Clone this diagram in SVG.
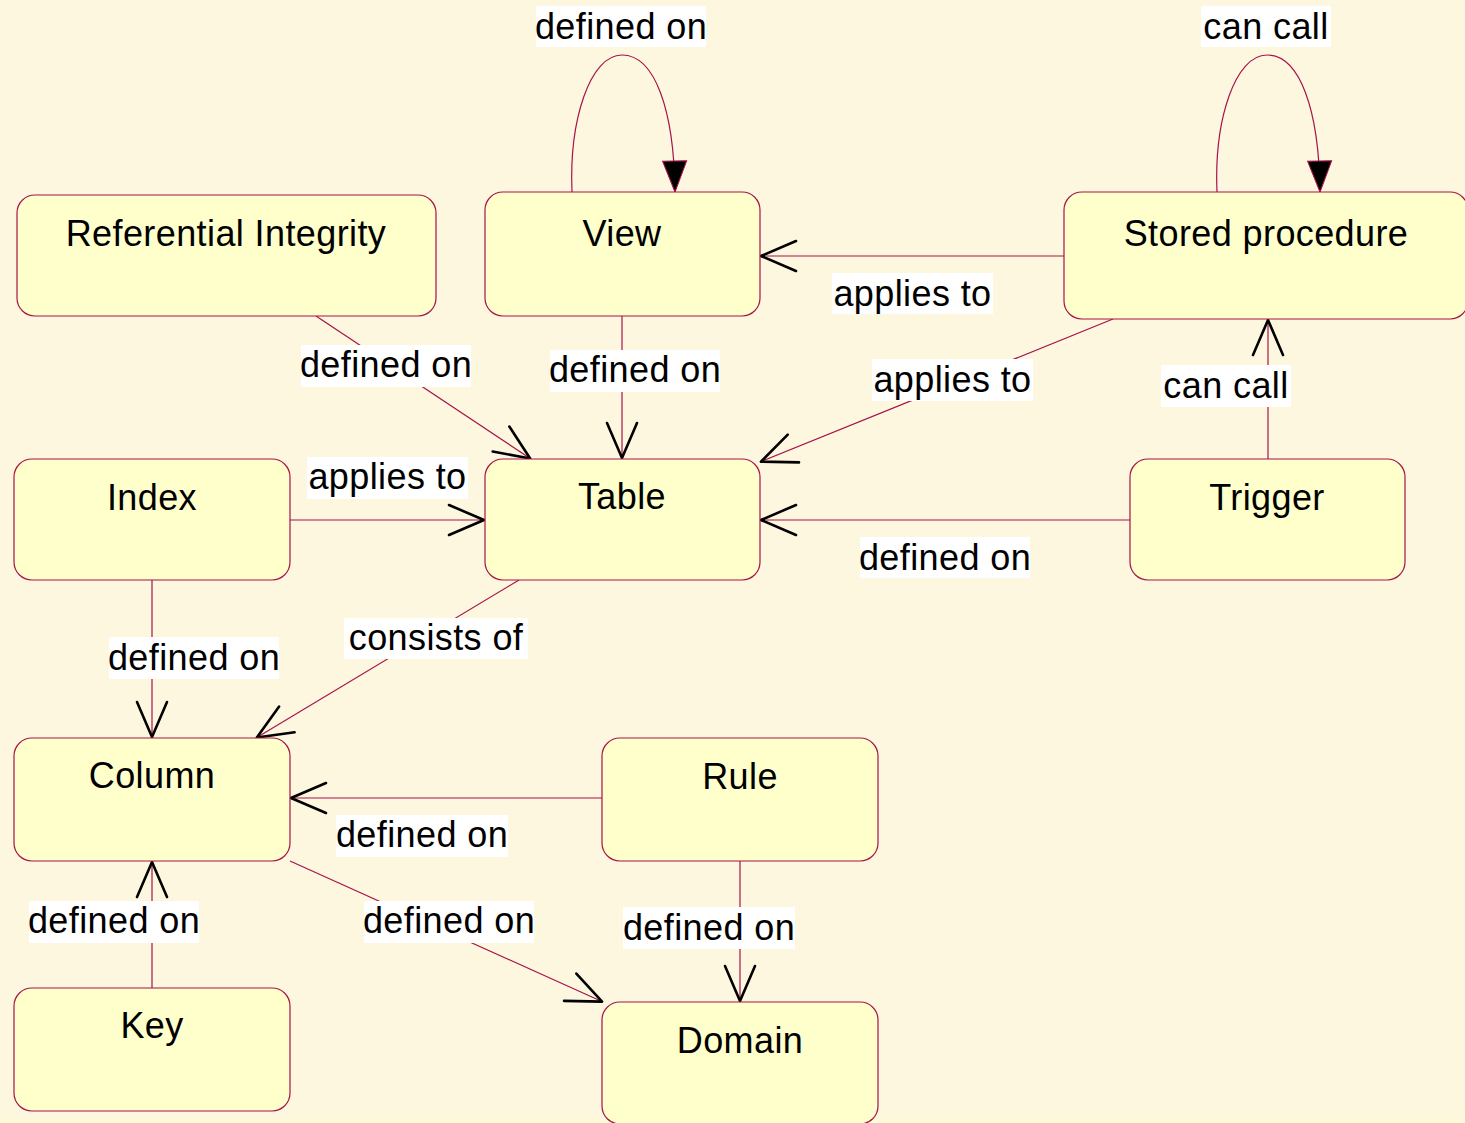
<svg xmlns="http://www.w3.org/2000/svg" width="1465" height="1123" viewBox="0 0 1465 1123">
  <style>
    .node rect { fill: #ffffcc; stroke: #a8124a; stroke-width: 1.2; }
    .node text { font-family: "Liberation Sans", Arial, sans-serif; font-size: 36px; letter-spacing: 0.4px; fill: #000; text-anchor: middle; }
    .edge { fill: none; stroke: #a8124a; stroke-width: 1.2; }
    .open { marker-end: url(#open); }
    .solid { marker-end: url(#solid); }
    .label rect { fill: #ffffff; }
    .label text { font-family: "Liberation Sans", Arial, sans-serif; font-size: 36px; letter-spacing: 0.4px; fill: #000; text-anchor: middle; }
  </style>
  <defs>
    <marker id="open" viewBox="-42 -20 46 40" refX="0" refY="0" markerWidth="46" markerHeight="40" markerUnits="userSpaceOnUse" orient="auto">
      <path d="M-36,-15 L-1,0 L-36,15" fill="none" stroke="#000" stroke-width="2.6" stroke-linejoin="round" stroke-linecap="round"/>
    </marker>
    <marker id="solid" viewBox="-34 -14 36 28" refX="0" refY="0" markerWidth="36" markerHeight="28" markerUnits="userSpaceOnUse" orient="auto">
      <path d="M-31,-12 L0,0 L-31,12 Z" fill="#000" stroke="#a8124a" stroke-width="1"/>
    </marker>
  </defs>

  <!-- canvas -->
  <rect x="0" y="0" width="1465" height="1123" fill="#fdf7df"/>
  <rect x="0" y="1119" width="1465" height="4" fill="#fffbd2"/>

  <!-- connectors -->
  <g id="connectors">
    <path class="edge solid" d="M572,192 C569,120 590,55 622,55 C655,55 674,110 675,192"/>
    <path class="edge solid" d="M1217,192 C1214,120 1235,55 1267,55 C1300,55 1319,110 1320,192"/>
    <path class="edge open" d="M1064,256 L760,256"/>
    <path class="edge open" d="M1113,319 L760,462"/>
    <path class="edge open" d="M1268,459 L1268,319"/>
    <path class="edge open" d="M1130,520 L760,520"/>
    <path class="edge open" d="M316,316 L531,459"/>
    <path class="edge open" d="M622,316 L622,459"/>
    <path class="edge open" d="M290,520 L485,520"/>
    <path class="edge open" d="M519,580 L256,738"/>
    <path class="edge open" d="M152,580 L152,738"/>
    <path class="edge open" d="M602,798 L290,798"/>
    <path class="edge open" d="M152,988 L152,861"/>
    <path class="edge open" d="M290,861 L603,1002"/>
    <path class="edge open" d="M740,861 L740,1002"/>

    <!-- connector labels -->
    <g class="label"><rect x="536" y="6" width="170" height="41"/><text x="621" y="39">defined on</text></g>
    <g class="label"><rect x="1201" y="6" width="130" height="41"/><text x="1266" y="39">can call</text></g>
    <g class="label"><rect x="832" y="273" width="161" height="41"/><text x="912.5" y="306">applies to</text></g>
    <g class="label"><rect x="872" y="359" width="161" height="42"/><text x="952.5" y="392">applies to</text></g>
    <g class="label"><rect x="1161" y="365" width="130" height="42"/><text x="1226" y="398">can call</text></g>
    <g class="label"><rect x="860" y="537" width="170" height="41"/><text x="945" y="570">defined on</text></g>
    <g class="label"><rect x="301" y="345" width="170" height="42"/><text x="386" y="377">defined on</text></g>
    <g class="label"><rect x="550" y="350" width="170" height="42"/><text x="635" y="382">defined on</text></g>
    <g class="label"><rect x="307" y="457" width="161" height="42"/><text x="387.5" y="489">applies to</text></g>
    <g class="label"><rect x="344" y="618" width="184" height="41"/><text x="436" y="650">consists of</text></g>
    <g class="label"><rect x="109" y="637" width="170" height="42"/><text x="194" y="670">defined on</text></g>
    <g class="label"><rect x="336" y="815" width="172" height="42"/><text x="422" y="847">defined on</text></g>
    <g class="label"><rect x="29" y="901" width="170" height="42"/><text x="114" y="933">defined on</text></g>
    <g class="label"><rect x="364" y="901" width="170" height="42"/><text x="449" y="933">defined on</text></g>
    <g class="label"><rect x="623" y="907" width="172" height="42"/><text x="709" y="940">defined on</text></g>
  </g>

  <!-- nodes -->
  <g id="referential-integrity" class="node"><rect x="17" y="195" width="419" height="121" rx="18"/><text x="226" y="246">Referential Integrity</text></g>
  <g id="view" class="node"><rect x="485" y="192" width="275" height="124" rx="18"/><text x="622" y="246">View</text></g>
  <g id="stored-procedure" class="node"><rect x="1064" y="192" width="404" height="127" rx="18"/><text x="1266" y="246">Stored procedure</text></g>
  <g id="index" class="node"><rect x="14" y="459" width="276" height="121" rx="18"/><text x="152" y="510">Index</text></g>
  <g id="table" class="node"><rect x="485" y="459" width="275" height="121" rx="18"/><text x="622" y="509">Table</text></g>
  <g id="trigger" class="node"><rect x="1130" y="459" width="275" height="121" rx="18"/><text x="1267" y="510">Trigger</text></g>
  <g id="column" class="node"><rect x="14" y="738" width="276" height="123" rx="18"/><text x="152" y="788">Column</text></g>
  <g id="rule" class="node"><rect x="602" y="738" width="276" height="123" rx="18"/><text x="740" y="789">Rule</text></g>
  <g id="key" class="node"><rect x="14" y="988" width="276" height="123" rx="18"/><text x="152" y="1038">Key</text></g>
  <g id="domain" class="node"><rect x="602" y="1002" width="276" height="122" rx="18"/><text x="740" y="1053">Domain</text></g>
</svg>
